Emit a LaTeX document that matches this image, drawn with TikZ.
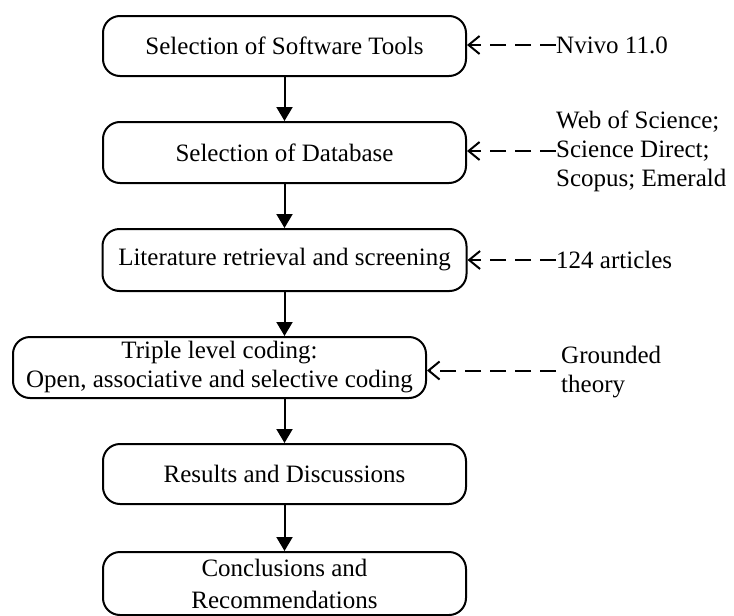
\documentclass[tikz,border=0pt]{standalone}
\usepackage{fontspec}
\setmainfont{Liberation Serif}
\usetikzlibrary{arrows.meta}
\begin{document}
\begin{tikzpicture}[x=1pt,y=-1pt,
  stepbox/.style={draw=black, line width=2pt, rounded corners=17pt, rectangle, inner sep=0pt, align=center, font=\fontsize{25}{30}\selectfont},
  sidelabel/.style={anchor=west, inner sep=0pt, align=left, font=\fontsize{25}{29}\selectfont},
  flow/.style={line width=2pt, -{Triangle[length=14pt,width=16pt]}},
  feed/.style={line width=2pt, dash pattern=on 16pt off 9pt, -{Straight Barb[length=11pt,width=18pt,line width=2pt]}}]
\useasboundingbox (0,0) rectangle (734,616);
\fill[white] (0,0) rectangle (734,616);
\node[stepbox, minimum width=363pt, minimum height=60pt] (b1) at (284.5,46) {Selection of Software Tools};
\node[stepbox, minimum width=363pt, minimum height=61pt] (b2) at (284.5,152.5) {Selection of Database};
\node[stepbox, minimum width=364pt, minimum height=62pt] (b3) at (284.5,260) {Literature retrieval and screening};
\node[stepbox, minimum width=413pt, minimum height=61pt, font=\fontsize{25}{29}\selectfont] (b4) at (219.5,367.5) {Triple level coding:\\Open, associative and selective coding};
\node[stepbox, minimum width=363pt, minimum height=60pt] (b5) at (284.5,474) {Results and Discussions};
\node[stepbox, minimum width=363pt, minimum height=63pt, font=\fontsize{25}{32}\selectfont] (b6) at (284.5,583.5) {Conclusions and\\Recommendations};
\draw[flow] (b1) -- (b2);
\draw[flow] (b2) -- (b3);
\draw[flow] (b3.south) -- (b3.south |- b4.north);
\draw[flow] (b4.south -| b3.south) -- (b5);
\draw[flow] (b5) -- (b6);
\node[sidelabel] (n1) at (556,45) {Nvivo 11.0};
\node[sidelabel] (n2) at (556,151) {Web of Science;\\Science Direct;\\Scopus; Emerald};
\node[sidelabel] (n3) at (556,260) {124 articles};
\node[sidelabel] (n4) at (561,372) {Grounded\\theory};
\draw[feed] (n1.west) -- (n1.west -| b1.east);
\draw[feed] (n2.west) -- (n2.west -| b2.east);
\draw[feed] (n3.west) -- (n3.west -| b3.east);
\draw[feed] (b4.east -| n4.west) ++(-5pt,-3pt) -- ([yshift=-3pt]b4.east);
\end{tikzpicture}
\end{document}
